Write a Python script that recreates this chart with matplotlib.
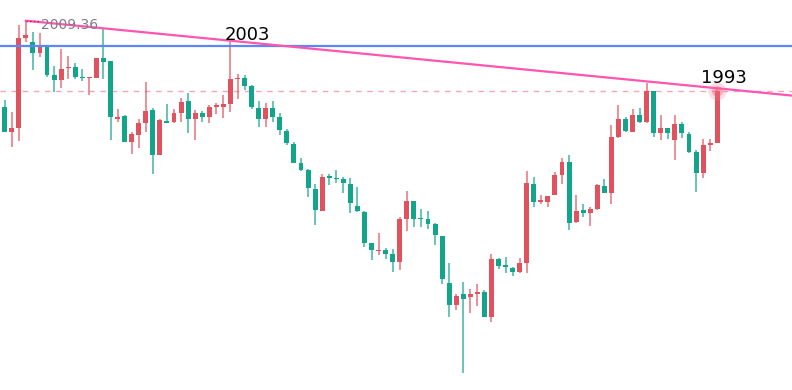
import numpy as np
import matplotlib
matplotlib.use("Agg")
import matplotlib.pyplot as plt

# OHLC (one candle per period, oldest first)
opens = [1987.87, 1981.47, 1982.62, 2005.12, 2004.12, 2001.37, 2002.67, 1995.67, 1994.54, 1997.42,
         1997.87, 1995.12, 1994.97, 1995.04, 2000.04, 1999.22, 1984.79, 1985.54, 1979.12, 1980.79,
         1983.87, 1987.04, 1975.79, 1984.12, 1984.12, 1986.37, 1989.29, 1984.79, 1986.22, 1985.37,
         1987.87, 1987.87, 1988.54, 1994.79, 1995.04, 1993.04, 1987.54, 1984.79, 1987.47, 1985.37,
         1981.87, 1978.54, 1973.72, 1972.04, 1967.22, 1961.79, 1970.37, 1970.04, 1969.72, 1968.47,
         1963.12, 1961.62, 1953.72, 1951.72, 1952.04, 1951.04, 1949.12, 1959.79, 1964.37, 1959.97,
         1959.72, 1958.47, 1955.62, 1943.72, 1938.29, 1940.97, 1940.22, 1941.04, 1941.62, 1935.22,
         1949.72, 1948.12, 1947.47, 1946.62, 1948.87, 1968.47, 1964.04, 1964.12, 1965.79, 1970.72,
         1974.04, 1958.97, 1962.04, 1961.37, 1962.22, 1968.12, 1966.37, 1980.37, 1984.79, 1981.62,
         1985.79, 1984.12, 1991.87, 1981.22, 1982.47, 1979.54, 1983.54, 1981.04, 1976.62, 1971.22,
         1978.29, 1978.72]
highs = [1989.54, 1986.62, 2008.29, 2009.36, 2006.54, 2006.22, 2003.29, 1998.04, 2002.24, 2000.62,
         1998.79, 1997.29, 1995.37, 2000.12, 2007.62, 1999.29, 1987.29, 1985.67, 1981.62, 1984.72,
         1994.12, 1987.47, 1984.72, 1988.54, 1987.22, 1989.97, 1991.37, 1987.04, 1986.87, 1988.29,
         1988.87, 1990.79, 2004.12, 1996.12, 1995.67, 1993.29, 1989.29, 1988.79, 1989.37, 1986.22,
         1982.22, 1979.12, 1974.97, 1972.22, 1968.47, 1970.97, 1970.97, 1972.04, 1970.37, 1969.97,
         1967.87, 1961.87, 1953.72, 1956.22, 1952.47, 1952.22, 1960.37, 1966.87, 1964.37, 1962.22,
         1961.87, 1958.72, 1955.62, 1948.72, 1941.04, 1944.12, 1942.22, 1943.54, 1942.04, 1951.04,
         1949.97, 1950.37, 1947.87, 1949.97, 1971.87, 1970.37, 1965.67, 1965.62, 1971.62, 1974.97,
         1975.72, 1965.79, 1963.54, 1962.87, 1968.54, 1969.79, 1983.29, 1988.29, 1985.22, 1987.29,
         1987.47, 1993.72, 1991.87, 1985.79, 1982.47, 1985.79, 1984.12, 1981.62, 1977.04, 1979.79,
         1979.72, 1992.47]
lows = [1981.47, 1977.72, 1979.37, 2004.12, 1997.04, 2000.37, 1995.29, 1991.47, 1992.62, 1994.87,
        1994.87, 1994.17, 1990.67, 1994.97, 1994.87, 1979.54, 1983.92, 1978.97, 1976.04, 1977.47,
        1981.62, 1971.04, 1975.79, 1983.87, 1983.72, 1984.12, 1981.37, 1979.54, 1984.12, 1983.87,
        1986.04, 1985.12, 1986.62, 1989.87, 1992.04, 1987.22, 1982.72, 1982.87, 1984.12, 1980.79,
        1978.29, 1973.87, 1971.87, 1965.37, 1958.29, 1961.79, 1968.29, 1968.72, 1966.37, 1961.22,
        1961.47, 1952.72, 1949.54, 1950.79, 1949.79, 1946.62, 1947.04, 1956.87, 1957.87, 1957.87,
        1957.29, 1953.29, 1943.54, 1935.37, 1937.04, 1921.22, 1936.37, 1938.12, 1935.22, 1934.12,
        1947.29, 1946.37, 1945.62, 1946.22, 1946.37, 1962.87, 1963.54, 1962.87, 1965.79, 1968.54,
        1956.97, 1958.72, 1960.37, 1958.12, 1962.04, 1966.22, 1963.54, 1979.97, 1981.47, 1981.62,
        1983.87, 1983.72, 1980.22, 1979.54, 1979.79, 1974.54, 1979.97, 1976.22, 1966.62, 1969.97,
        1976.87, 1978.72]
closes = [1981.47, 1982.47, 2005.12, 2005.79, 2001.37, 2002.87, 1995.67, 1994.54, 1997.29, 1997.87,
          1995.37, 1994.92, 1995.22, 2000.04, 1999.12, 1985.17, 1985.17, 1979.04, 1981.04, 1983.72,
          1986.87, 1975.79, 1984.54, 1983.87, 1986.22, 1989.12, 1984.79, 1986.37, 1985.37, 1987.87,
          1988.12, 1988.54, 1994.79, 1995.04, 1993.04, 1987.67, 1984.87, 1987.47, 1985.37, 1982.04,
          1978.87, 1973.87, 1972.04, 1967.47, 1962.04, 1970.37, 1970.12, 1969.79, 1968.72, 1963.72,
          1961.79, 1953.87, 1952.04, 1952.04, 1951.04, 1949.12, 1959.79, 1964.37, 1959.79, 1959.79,
          1958.62, 1955.79, 1944.79, 1938.29, 1940.62, 1939.79, 1940.97, 1941.62, 1935.22, 1949.72,
          1948.04, 1947.87, 1946.62, 1948.72, 1968.72, 1964.12, 1964.54, 1965.62, 1970.72, 1974.04,
          1958.87, 1961.87, 1961.22, 1962.29, 1968.29, 1966.37, 1980.37, 1984.79, 1981.87, 1985.79,
          1984.12, 1991.87, 1981.22, 1982.47, 1981.37, 1983.47, 1981.22, 1976.62, 1971.22, 1978.29,
          1978.72, 1991.87]

peak_label = "2009.36"
resistance = 2002.92          # blue horizontal level
notes = [(32, "2003"), (101, "1993")]   # candle index, label

up_col = '#e0525e'
down_col = '#12a58b'

o = np.array(opens)
h = np.array(highs)
l = np.array(lows)
c = np.array(closes)
x = np.arange(len(o))
up = c >= o
cols = np.where(up, up_col, down_col)

fig = plt.figure(figsize=(7.92, 3.9), dpi=100)
ax = fig.add_axes([0, 0, 1, 1])
ax.set_xlim(-0.666, 111.6)
ax.set_ylim(1917.04, 2014.54)
ax.axis('off')

# wicks + bodies
ax.vlines(x, l, h, colors=cols, linewidth=1.2, alpha=0.75, zorder=2)
body_lo = np.minimum(o, c)
body_h = np.maximum(np.abs(c - o), 0.3)
ax.bar(x, body_h, bottom=body_lo, width=0.7, color=cols, linewidth=0, zorder=3)

# last price line
ax.axhline(c[-1], color='#f2a9b6', linewidth=1, linestyle=(0, (4, 4)), zorder=1)

# resistance level
ax.axhline(resistance, color='#5b88f2', linewidth=1.6, zorder=4)

# trend line through the two marked highs, extended to the right edge
i0, i1 = 3, len(h) - 1
slope = (h[i1] - h[i0]) / (i1 - i0)
xe = np.array([i0, 111.6])
ax.plot(xe, h[i0] + slope * (xe - i0), color='#ff55b0', linewidth=1.6, zorder=5)

# peak marker
ax.plot([i0, i0 + 2], [h[i0], h[i0]], color='#c2185b', linewidth=1, linestyle=':', zorder=5)
ax.text(i0 + 2.1, h[i0] - 1.1, peak_label, color='#7d7f88', fontsize=10,
        ha='left', va='center', zorder=6)

# glow on last high
ax.scatter([i1], [h[i1] - 0.8], s=170, color='#f77b95', alpha=0.25, linewidth=0, zorder=6)
ax.scatter([i1], [h[i1] - 0.8], s=60, color='#f0637e', alpha=0.4, linewidth=0, zorder=6)

for idx, txt in notes:
    ax.text(idx + 2.4 if idx < 50 else idx + 0.9, h[idx] + 0.4 if idx < 50 else h[idx] + 1.4,
            txt, fontsize=13, color='black', ha='center', va='baseline', zorder=7)

fig.savefig('out.png', dpi=100)
